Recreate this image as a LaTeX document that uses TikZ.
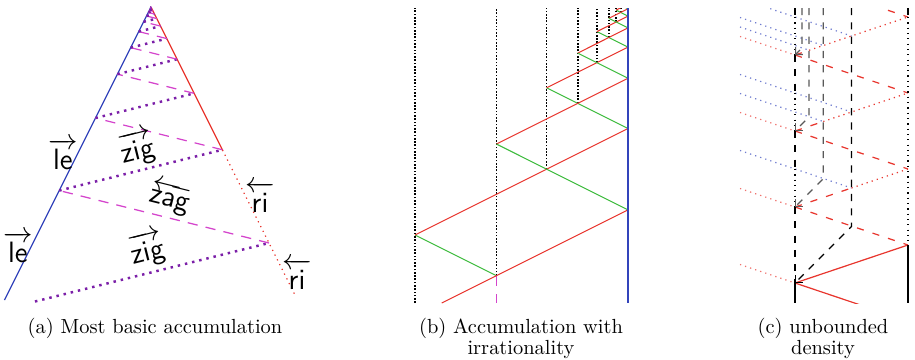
\documentclass[tikz,border=0pt]{standalone}
\usepackage{amsmath,amssymb}
\usepackage{xcolor}
\usepackage{tikz}
\usetikzlibrary{arrows.meta}
\definecolor{lecol}{HTML}{3344BB}
\definecolor{ricol}{HTML}{E8362E}
\definecolor{zigcol}{HTML}{7B1FA8}
\definecolor{zagcol}{HTML}{D444CC}
\definecolor{grncol}{HTML}{3DBB3D}
\newcommand{\rsig}[1]{$\overrightarrow{\textsf{#1}}$}
\newcommand{\lsig}[1]{$\overleftarrow{\textsf{#1}}$}

\begin{document}
\begin{tikzpicture}[x=0.0172cm,y=-0.0172cm,
  lbl/.style={font=\Large,inner sep=1pt},
  captext/.style={align=center,inner sep=1pt},
  leline/.style={draw=lecol,line width=0.6pt},
  riline/.style={draw=ricol,line width=0.6pt},
  zigline/.style={draw=zigcol,line width=1.2pt,dash pattern=on 1.2pt off 2.4pt},
  zagline/.style={draw=zagcol,line width=0.6pt,dash pattern=on 5pt off 4pt},
  vsig/.style={dash pattern=on 0.8pt off 0.8pt,line width=0.8pt},
  redsig/.style={draw=ricol,line width=0.5pt},
  grnsig/.style={draw=grncol,line width=0.5pt},
  stat/.style={line width=0.6pt},
  cdash/.style={dash pattern=on 3.5pt off 3.5pt},
  rdash/.style={draw=ricol,line width=0.6pt,dash pattern=on 3.5pt off 4.5pt},
  rdot/.style={draw=ricol!70,line width=0.6pt,dotted},
  bdot/.style={draw=lecol!70,line width=0.6pt,dotted},
  midsig/.style={line width=0.6pt,dash pattern=on 3.5pt off 3.5pt,
                 -{Straight Barb[length=2.5pt,width=5pt]}},
]
\useasboundingbox (0,0) rectangle (915,359);

% (a) most basic accumulation
\coordinate (apex) at (151,7);
\coordinate (lebot) at (4.5,300);
\coordinate (ribend) at (222.5,150);
\coordinate (ribot) at (295,295);
\draw[leline] (apex) -- (lebot);
\draw[riline] (apex) -- (ribend);
\draw[riline,dotted] (ribend) -- (ribot);
\draw[zigline] (35,301.5) -- (269,243);
\foreach \i in {0,...,13}{
  \pgfmathsetmacro\da{236*(7/9)^(2*\i)}
  \pgfmathsetmacro\db{\da*7/9}
  \pgfmathsetmacro\dc{\db*7/9}
  \draw[zagline] (151+\da/2,7+\da) -- (151-\db/2,7+\db);
  \draw[zigline] (151-\db/2,7+\db) -- (151+\dc/2,7+\dc);
}
\node[lbl] (le1) at (18,247) {\rsig{le}};
\node[lbl] (le2) at (63,154) {\rsig{le}};
\node[lbl] (ri1) at (260,197) {\lsig{ri}};
\node[lbl] (ri2) at (297,274) {\lsig{ri}};
\node[lbl,rotate=14] (zig1) at (137,148) {\rsig{zig}};
\node[lbl,rotate=-14] (zag1) at (170,198) {\lsig{zag}};
\node[lbl,rotate=14] (zig2) at (147,249) {\rsig{zig}};
\node[captext] (capa) at (155,328) {(a) Most basic accumulation};

% (b) accumulation with irrationality
\begin{scope}
\clip (405,8) rectangle (640,303);
\foreach \x/\y in {415/303,496.4/275.7,546.6/169.2,577.7/103.4,
                   596.9/62.7,608.8/37.5,616.1/22.0,620.7/12.4}
  \draw[vsig] (\x,\y) -- (\x,8);
\draw[zagline] (496.4,275.7) -- (496.4,303);
\draw[grnsig] (496.4,275.7) -- (415,235)
  (628,128.5) -- (546.6,87.8) (628,47.1) -- (596.9,31.6)
  (628,16.1) -- (616.1,10.1);
\draw[redsig] (415,235) -- (628,128.5)
  (546.6,87.8) -- (628,47.1) (596.9,31.6) -- (628,16.1)
  (616.1,10.1) -- (628,4.2);
\draw[redsig] (441.7,303) -- (628,209.9)
  (496.4,144) -- (628,78.2) (577.7,53.1) -- (628,27.9)
  (608.8,18.3) -- (628,8.7);
\draw[grnsig] (628,209.9) -- (496.4,144)
  (628,78.2) -- (577.7,53.1) (628,27.9) -- (608.8,18.3)
  (628,8.7) -- (620.7,5.1);
\draw[draw=lecol,line width=0.6pt] (628,8) -- (628,303);
\end{scope}
\node[captext] (capb) at (521,338) {(b) Accumulation with\\[-1.75pt]irrationality};

% (c) unbounded density
\begin{scope}
\clip (735,8) rectangle (915,303);
% incoming signals
\draw[bdot] (740,150.5) -- (851.5,188);
\draw[bdot] (740,74.5) -- (851.5,112) (740,93.5) -- (823.25,121.5);
\draw[bdot] (740,-1.5) -- (851.5,36) (740,17.5) -- (823.25,45.5)
  (740,27) -- (809.1,50.25);
\draw[rdot] (740,264.5) -- (795,283) (740,188.5) -- (795,207)
  (740,112.5) -- (795,131) (740,36.5) -- (795,55);
% red zigzags
\draw[riline] (795,283) -- (908,245) (795,283) -- (908,321);
\draw[rdash] (795,207) -- (908,245) (795,131) -- (908,169)
  (795,55) -- (908,93) (795,-21) -- (908,17);
\draw[rdash] (795,207) -- (851.5,188) (795,131) -- (823.25,121.5)
  (795,55) -- (809.1,50.25);
\draw[rdot,draw=ricol] (851.5,188) -- (908,169) (823.25,121.5) -- (908,93)
  (809.1,50.25) -- (908,17);
% stationary signals
\draw[stat] (795,283) -- (795,303);
\draw[stat,cdash] (795,207) -- (795,283);
\draw[stat,dotted] (795,169) -- (795,207);
\draw[stat,cdash] (795,131) -- (795,169);
\draw[stat,dotted] (795,93) -- (795,131);
\draw[stat,cdash] (795,55) -- (795,93);
\draw[stat,dotted] (795,17) -- (795,55);
\draw[stat,cdash] (795,8) -- (795,17);
\draw[stat] (908,245) -- (908,303);
\draw[stat,dotted] (908,17) -- (908,245);
\draw[stat,cdash] (908,8) -- (908,17);
\draw[midsig] (851.5,8) -- (851.5,226.5) -- (795,283);
\draw[midsig,black!65] (823.25,8) -- (823.25,178.75) -- (795,207);
\draw[midsig,black!65] (809.1,8) -- (809.1,116.9) -- (795,131);
\draw[midsig,black!65] (802.1,8) -- (802.1,47.9) -- (795,55);
\end{scope}
\node[captext] (capc) at (823,338) {(c) unbounded\\[-1.75pt]density};
\end{tikzpicture}
\end{document}
